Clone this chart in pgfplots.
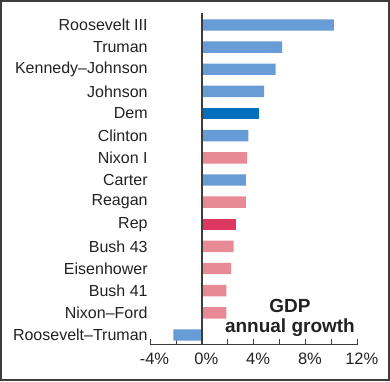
\documentclass[border=0pt]{standalone}
\usepackage{pgfplots}
\pgfplotsset{compat=1.18}
\usepackage{fontspec}
\setmainfont{Liberation Sans}
\definecolor{lblue}{RGB}{104,156,214}
\definecolor{dblue}{RGB}{0,112,190}
\definecolor{lpink}{RGB}{232,138,150}
\definecolor{dred}{RGB}{220,56,98}
\definecolor{axgray}{RGB}{60,60,60}
\definecolor{txt}{RGB}{34,34,34}
\begin{document}
\begin{tikzpicture}
\useasboundingbox (0,0) rectangle (390pt,381pt);
\draw[line width=2.4pt, axgray] (1.2pt,1.2pt) rectangle (388.8pt,379.8pt);
\begin{axis}[
  at={(150pt,36.3pt)}, anchor=south west,
  scale only axis, width=207.3pt, height=331.7pt,
  xmin=-4, xmax=12, ymin=-0.44, ymax=14.54,
  xbar, bar width=11.4pt,
  axis x line*=bottom, axis y line*=left,
  axis line style={-, draw=axgray, line width=1pt},
  y axis line style={draw=none},
  ytick style={draw=none},
  xtick={-4,-2,...,12},
  xticklabels={-4\%,{},0\%,{},4\%,{},8\%,{},12\%},
  xtick align=inside, major tick length=6pt,
  xtick style={draw=axgray, line width=0.8pt},
  ytick={0,...,14},
  yticklabels={Roosevelt–Truman,Nixon–Ford,Bush 41,Eisenhower,Bush 43,Rep,Reagan,Carter,Nixon I,Clinton,Dem,Johnson,Kennedy–Johnson,Truman,Roosevelt III},
  yticklabel style={inner sep=0pt, xshift=3.8pt, font=\fontsize{16}{18}\selectfont, text=txt},
  xticklabel style={font=\fontsize{16.5}{18}\selectfont, text=txt, xshift=4.5pt, yshift=-5pt},
  /pgf/number format/assume math mode=true,
  clip=false,
]
\addplot[fill=lblue, draw=none, bar shift=0pt] coordinates {(-2.2,0) (3.4,7) (3.6,9) (4.8,11) (5.7,12) (6.2,13) (10.2,14)};
\addplot[fill=dblue, draw=none, bar shift=0pt] coordinates {(4.4,10)};
\addplot[fill=lpink, draw=none, bar shift=0pt] coordinates {(1.9,1) (1.9,2) (2.27,3) (2.45,4) (3.4,6) (3.5,8)};
\addplot[fill=dred, draw=none, bar shift=0pt] coordinates {(2.6,5)};
\draw[axgray, line width=1.4pt] (axis cs:0,-0.44) -- (axis cs:0,14.54);
\node[align=center, font=\bfseries\fontsize{19}{20.5}\selectfont, text=txt] at (axis cs:6.8,0.78) {GDP\\annual growth};
\end{axis}
\end{tikzpicture}
\end{document}
